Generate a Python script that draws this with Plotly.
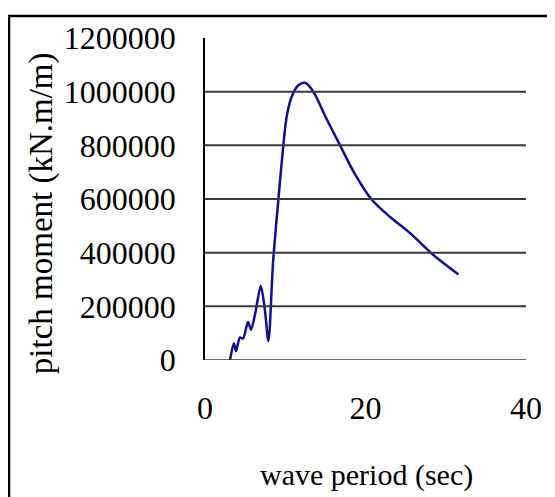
import plotly.graph_objects as go

period = [3.12, 3.6, 3.87, 4.36, 4.74, 5.36, 5.74, 6.3, 6.95, 7.45, 7.9, 8.48, 9.14, 9.76,
          10.19, 10.81, 11.63, 12.47, 13.5, 15.17, 16.83, 18.49, 20.79, 23.07, 25.56, 28.27, 31.58]
moment = [0, 62000, 33000, 84000, 80000, 142000, 113000, 180000, 276000, 190000, 70000, 364000,
          597000, 800000, 909000, 982000, 1024000, 1033000, 1000000, 897000, 800000, 703000,
          597000, 533000, 473000, 396000, 319000]

y_ticks = [0, 200000, 400000, 600000, 800000, 1000000, 1200000]
grid_vals = [0, 200000, 400000, 600000, 800000, 1000000]
x_ticks = [0, 20, 40]

x_title = "wave period (sec)"
y_title = "pitch moment (kN.m/m)"

# page body has an 8px margin, so the figure is placed at (8, 8) in the window
OFF = 8
W, H = 555 - OFF, 497 - OFF
L, R, T, B = 205 - OFF, 526 - OFF, 31 - OFF, 360 - OFF

def px(x):
    return (x - L) / (R - L)

def py(y):
    return (B - y) / (B - T)

fig = go.Figure()
fig.add_trace(go.Scatter(x=period, y=moment, mode="lines",
                         line=dict(color="#10108a", width=2.5, shape="spline", smoothing=0.8),
                         showlegend=False))

shapes = []
for g in grid_vals:
    shapes.append(dict(type="line", xref="paper", yref="y", x0=0, x1=1, y0=g, y1=g,
                       line=dict(color="#3a3a3a", width=2 if g else 1.5)))
shapes.append(dict(type="rect", xref="paper", yref="paper", x0=px(1), x1=px(W + 20),
                   y0=py(H + 20), y1=py(0.5), line=dict(color="black", width=2.5), layer="below"))
fig.update_layout(shapes=shapes)

font = "Liberation Serif, Times New Roman, serif"
fig.add_annotation(text=x_title, xref="paper", yref="paper", x=px(366 - OFF), y=py(478 - OFF),
                   xanchor="center", yanchor="middle", showarrow=False, font=dict(size=30))
fig.add_annotation(text=y_title, xref="paper", yref="paper", x=px(41 - OFF), y=py(210 - OFF),
                   xanchor="center", yanchor="middle", showarrow=False, textangle=-90,
                   font=dict(size=33))

fig.update_layout(
    width=W, height=H,
    margin=dict(l=L, r=W - R, t=T, b=H - B),
    paper_bgcolor="white", plot_bgcolor="white",
    font=dict(family=font, size=32, color="black"),
    xaxis=dict(range=[0, 40], tickvals=x_ticks, showgrid=False, zeroline=False,
               showline=False, ticks="", ticklabelstandoff=26),
    yaxis=dict(range=[0, 1200000], tickvals=y_ticks, tickformat="d", showgrid=False,
               zeroline=False, showline=True, linecolor="black", linewidth=1.5,
               ticks="", ticklabelstandoff=21),
)
fig.write_html("out.html")
